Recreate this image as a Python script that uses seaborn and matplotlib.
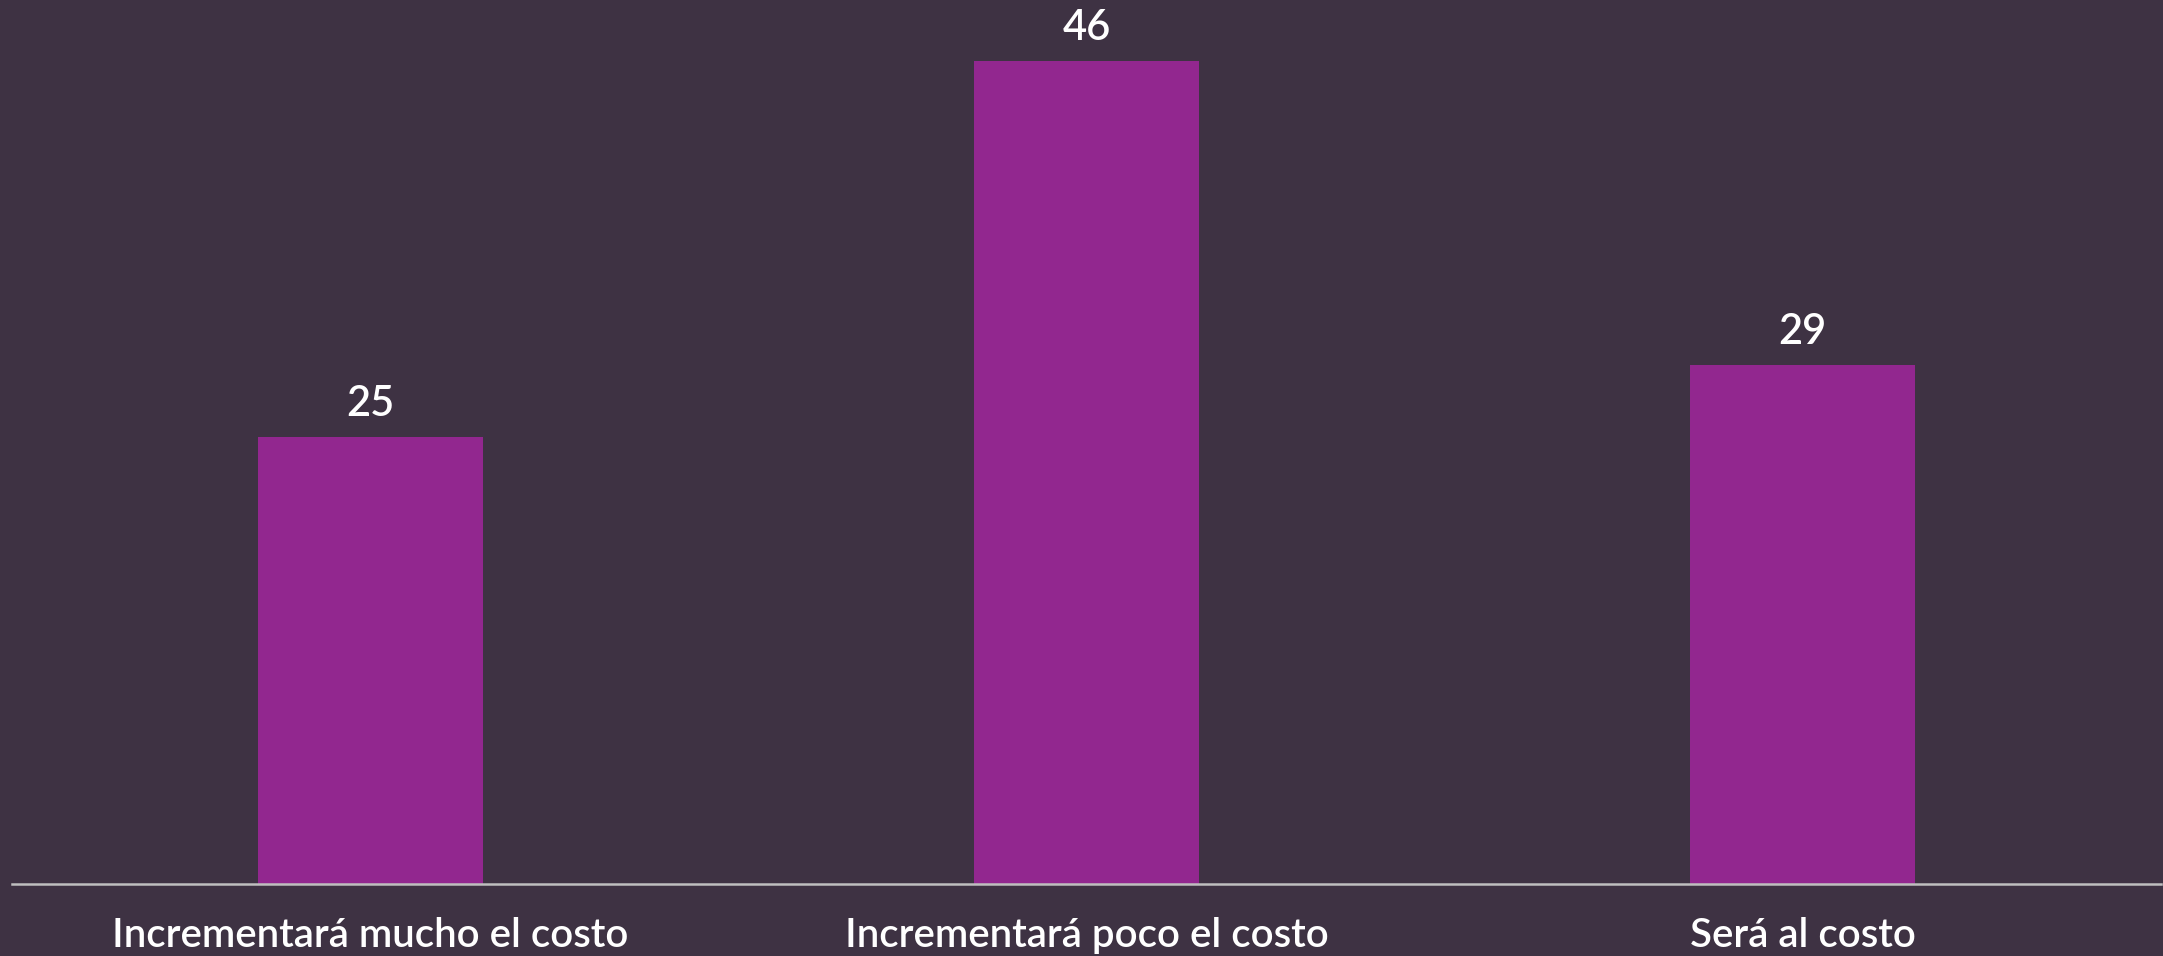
import matplotlib
matplotlib.use("Agg")
import matplotlib.pyplot as plt
import seaborn as sns
import pandas as pd

# Data
categories = ["Incrementará mucho el costo", "Incrementará poco el costo", "Será al costo"]
values = [25, 46, 29]

bg = "#3E3243"
bar_color = "#92278F"

sns.set_theme(style="white")
plt.rcParams['font.family'] = ['Lato', 'DejaVu Sans']

df = pd.DataFrame({"cat": categories, "val": values})

fig = plt.figure(figsize=(21.63, 9.56), dpi=100, facecolor=bg)
ax = fig.add_axes([12 / 2163, (956 - 884) / 956, 2149 / 2163, 884 / 956])
ax.set_facecolor(bg)

sns.barplot(data=df, x="cat", y="val", color=bar_color, saturation=1,
            width=0.314, linewidth=0, edgecolor="none", ax=ax)

ax.set_xlim(-0.5, 2.5)
ax.set_ylim(0, 49.4)

# value labels above bars
for c in ax.containers:
    labs = ax.bar_label(c, labels=[str(v) for v in values], padding=10,
                        color="white", fontsize=30)
    for t in labs:
        t.set_fontweight("semibold")

for s in ["top", "right", "left"]:
    ax.spines[s].set_visible(False)
ax.spines["bottom"].set_color("#BFBFBF")
ax.spines["bottom"].set_linewidth(1.8)

ax.set_yticks([])
ax.set_xlabel("")
ax.set_ylabel("")
ax.tick_params(axis="x", length=0, pad=24, labelsize=29, labelcolor="white")
for t in ax.get_xticklabels():
    t.set_fontweight("semibold")

fig.savefig("out.png", dpi=100, facecolor=bg)
